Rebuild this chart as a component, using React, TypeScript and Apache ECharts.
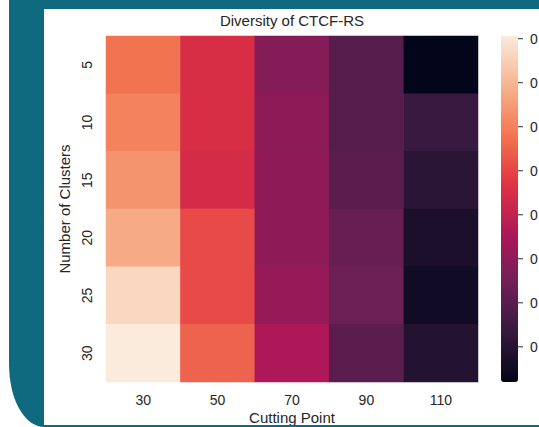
import React, { useEffect, useRef } from "react";
import * as echarts from "echarts";

const cuttingPoints = ["30", "50", "70", "90", "110"];
const clusters = ["5", "10", "15", "20", "25", "30"];

const diversityK5 = [0.538, 0.474, 0.391, 0.348, 0.26];
const diversityK10 = [0.552, 0.474, 0.398, 0.348, 0.319];
const diversityK15 = [0.568, 0.47, 0.4, 0.352, 0.304];
const diversityK20 = [0.589, 0.505, 0.4, 0.363, 0.288];
const diversityK25 = [0.633, 0.505, 0.407, 0.368, 0.277];
const diversityK30 = [0.653, 0.525, 0.43, 0.352, 0.296];

const diversityRows = [diversityK5, diversityK10, diversityK15, diversityK20, diversityK25, diversityK30];

const colorbarTicks = [0.3, 0.35, 0.4, 0.45, 0.5, 0.55, 0.6, 0.65];
const colorbarLabel = "0";

const rocket = ["#03051a", "#35193e", "#701f57", "#ad1759", "#e13342", "#f37651", "#f6b48f", "#faebdd"];

const FONT = "'Liberation Sans', Arial, sans-serif";
const TEXT = "#262626";
const TEAL = "#0f6a80";

export default function App() {
  const ref = useRef<HTMLDivElement>(null);

  useEffect(() => {
    if (!ref.current) return;
    const chart = echarts.init(ref.current, null, { renderer: "svg" });

    const data: number[][] = [];
    diversityRows.forEach((row, yi) => {
      row.forEach((v, xi) => data.push([xi, yi, v]));
    });
    const all = diversityRows.flat();
    const vmin = Math.min(...all);
    const vmax = Math.max(...all);

    chart.setOption({
      animation: false,
      backgroundColor: "transparent",
      textStyle: { fontFamily: FONT },
      graphic: [
        {
          type: "text",
          x: 292,
          y: 20,
          style: {
            text: "Diversity of CTCF-RS",
            align: "center",
            verticalAlign: "middle",
            fontSize: 15,
            fontFamily: FONT,
            fill: TEXT,
          },
        },
      ],
      grid: [
        { left: 106, top: 36, width: 372, height: 346, outerBoundsMode: "none", containLabel: false },
        { left: 501, top: 36, width: 17, height: 346, outerBoundsMode: "none", containLabel: false },
      ],
      xAxis: [
        {
          type: "category",
          data: cuttingPoints,
          gridIndex: 0,
          axisLine: { show: false },
          axisTick: { show: false },
          splitLine: { show: false },
          axisLabel: { fontSize: 14, color: TEXT, margin: 11, fontFamily: FONT },
          name: "Cutting Point",
          nameLocation: "middle",
          nameGap: 28,
          nameMoveOverlap: false,
          nameTextStyle: { fontSize: 15, color: TEXT, fontFamily: FONT },
        },
        { type: "value", gridIndex: 1, show: false, min: 0, max: 1 },
      ],
      yAxis: [
        {
          type: "category",
          data: clusters,
          inverse: true,
          gridIndex: 0,
          axisLine: { show: false },
          axisTick: { show: false },
          splitLine: { show: false },
          axisLabel: { fontSize: 14, color: TEXT, rotate: 90, margin: 12, fontFamily: FONT },
          name: "Number of Clusters",
          nameLocation: "middle",
          nameGap: 34,
          nameMoveOverlap: false,
          nameTextStyle: { fontSize: 15, color: TEXT, fontFamily: FONT },
        },
        {
          type: "value",
          gridIndex: 1,
          position: "right",
          min: vmin,
          max: vmax,
          axisLine: { show: false },
          splitLine: { show: false },
          axisTick: { show: false },
          axisLabel: {
            show: true,
            customValues: colorbarTicks,
            formatter: () => colorbarLabel,
            fontSize: 14,
            color: TEXT,
            margin: 12,
            fontFamily: FONT,
          },
        },
      ],
      visualMap: {
        type: "continuous",
        min: vmin,
        max: vmax,
        dimension: 2,
        seriesIndex: 0,
        calculable: false,
        hoverLink: false,
        left: 501,
        top: 36,
        padding: 0,
        itemWidth: 17,
        itemHeight: 346,
        text: null,
        inRange: { color: rocket },
      },
      series: [
        {
          type: "heatmap",
          xAxisIndex: 0,
          yAxisIndex: 0,
          data,
          itemStyle: { borderWidth: 0 },
          emphasis: { disabled: true },
        },
        {
          type: "scatter",
          xAxisIndex: 1,
          yAxisIndex: 1,
          clip: false,
          silent: true,
          symbol: "rect",
          symbolSize: [5, 1.2],
          symbolOffset: [2.5, 0],
          itemStyle: { color: TEXT },
          data: colorbarTicks.map((t) => [1, t]),
        },
      ],
    });

    return () => chart.dispose();
  }, []);

  return (
    <div style={{ position: "fixed", left: 0, top: 0, width: 539, height: 427, background: "#ffffff", overflow: "hidden" }}>
      <div
        style={{
          position: "absolute",
          left: 9,
          top: 0,
          width: 530,
          height: 427,
          background: TEAL,
          borderBottomLeftRadius: "35px 62px",
        }}
      />
      <div style={{ position: "absolute", left: 44, top: 9, width: 495, height: 416, background: "#ffffff" }} />
      <div ref={ref} style={{ position: "absolute", left: 0, top: 0, width: 539, height: 427 }} />
      <div style={{ position: "absolute", left: 44, top: 425, width: 495, height: 2, background: TEAL }} />
    </div>
  );
}
